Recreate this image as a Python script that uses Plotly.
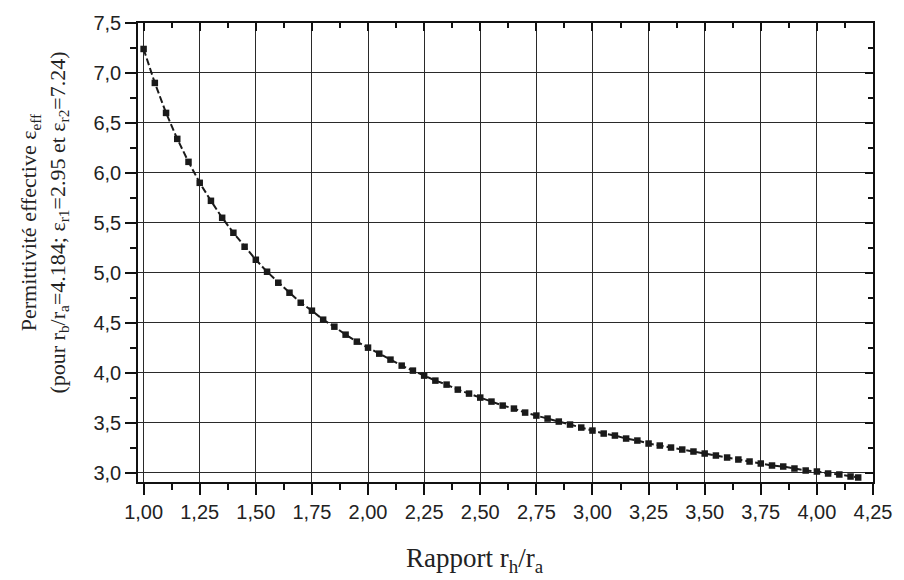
import plotly.graph_objects as go

# Rapport r_h/r_a
ratio = [1.00, 1.05, 1.10, 1.15, 1.20, 1.25, 1.30, 1.35, 1.40, 1.45,
         1.50, 1.55, 1.60, 1.65, 1.70, 1.75, 1.80, 1.85, 1.90, 1.95,
         2.00, 2.05, 2.10, 2.15, 2.20, 2.25, 2.30, 2.35, 2.40, 2.45,
         2.50, 2.55, 2.60, 2.65, 2.70, 2.75, 2.80, 2.85, 2.90, 2.95,
         3.00, 3.05, 3.10, 3.15, 3.20, 3.25, 3.30, 3.35, 3.40, 3.45,
         3.50, 3.55, 3.60, 3.65, 3.70, 3.75, 3.80, 3.85, 3.90, 3.95,
         4.00, 4.05, 4.10, 4.15, 4.184]

# Permittivité effective
eps_eff = [7.24, 6.90, 6.60, 6.34, 6.11, 5.90, 5.72, 5.55, 5.40, 5.26,
           5.13, 5.01, 4.90, 4.80, 4.70, 4.62, 4.53, 4.46, 4.38, 4.31,
           4.25, 4.19, 4.13, 4.07, 4.02, 3.97, 3.92, 3.88, 3.83, 3.79,
           3.75, 3.71, 3.67, 3.64, 3.60, 3.57, 3.54, 3.51, 3.48, 3.45,
           3.42, 3.39, 3.37, 3.34, 3.32, 3.29, 3.27, 3.25, 3.23, 3.21,
           3.19, 3.17, 3.15, 3.13, 3.11, 3.09, 3.07, 3.06, 3.04, 3.02,
           3.01, 2.99, 2.98, 2.96, 2.95]

x_range = [0.975, 4.25]
y_range = [2.905, 7.5]

tick_font = dict(family="Liberation Sans, Arial", size=20, color="#222")
grid_col = "#2a2a2a"

fig = go.Figure()
fig.add_trace(go.Scatter(
    x=ratio, y=eps_eff, mode="lines+markers",
    line=dict(color="#1a1a1a", width=2, dash="7px,3px"),
    marker=dict(symbol="square", size=6.5, color="#1a1a1a"),
    showlegend=False, hoverinfo="skip"))
# invisible trace to host the top/right frame axes
fig.add_trace(go.Scatter(
    x=ratio, y=eps_eff, xaxis="x2", yaxis="y2", mode="lines",
    line=dict(width=0), opacity=0, showlegend=False, hoverinfo="skip"))

fig.update_layout(
    width=904, height=580,
    margin=dict(l=138, r=25, t=21, b=98),
    paper_bgcolor="white", plot_bgcolor="white",
    separators=",.",
    xaxis=dict(range=x_range, tick0=1.0, dtick=0.25, tickformat=".2f",
               showgrid=True, gridcolor=grid_col, gridwidth=1,
               zeroline=False, showline=True, linecolor="#111", linewidth=1.5,
               ticks="outside", ticklen=11, tickwidth=1.5, tickcolor="#111",
               tickfont=tick_font,
               minor=dict(dtick=0.125, tick0=1.0, ticks="outside", ticklen=6,
                          tickwidth=1.5, tickcolor="#111", showgrid=False)),
    yaxis=dict(range=y_range, tick0=3.0, dtick=0.5, tickformat=".1f",
               showgrid=True, gridcolor=grid_col, gridwidth=1,
               zeroline=False, showline=True, linecolor="#111", linewidth=1.5,
               ticks="outside", ticklen=11, tickwidth=1.5, tickcolor="#111",
               tickfont=tick_font,
               minor=dict(dtick=0.25, tick0=3.0, ticks="outside", ticklen=6,
                          tickwidth=1.5, tickcolor="#111", showgrid=False)),
    xaxis2=dict(range=x_range, overlaying="x", side="top", anchor="y2",
                tick0=1.0, dtick=0.25, showticklabels=False, showgrid=False,
                zeroline=False, showline=True, linecolor="#111", linewidth=1.5,
                ticks="inside", ticklen=8, tickwidth=1.5, tickcolor="#111",
                minor=dict(dtick=0.125, tick0=1.0, ticks="inside", ticklen=5,
                           tickwidth=1.5, tickcolor="#111", showgrid=False)),
    yaxis2=dict(range=y_range, overlaying="y", side="right", anchor="x2",
                tick0=3.0, dtick=0.5, showticklabels=False, showgrid=False,
                zeroline=False, showline=True, linecolor="#111", linewidth=1.5,
                ticks="inside", ticklen=8, tickwidth=1.5, tickcolor="#111",
                minor=dict(dtick=0.25, tick0=3.0, ticks="inside", ticklen=5,
                           tickwidth=1.5, tickcolor="#111", showgrid=False)),
)

title_font = dict(family="Liberation Serif, Times New Roman", size=22, color="#222")
fig.add_annotation(
    text="Permittivité effective ε<sub>eff</sub><br>"
         "(pour r<sub>b</sub>/r<sub>a</sub>=4.184; ε<sub>r1</sub>=2.95 et ε<sub>r2</sub>=7.24)",
    xref="paper", yref="paper", x=-0.128, y=0.565,
    xanchor="center", yanchor="middle", textangle=-90,
    showarrow=False, font=title_font, align="center")
fig.add_annotation(
    text="Rapport r<sub>h</sub>/r<sub>a</sub>",
    xref="paper", yref="paper", x=0.459, y=-0.17,
    xanchor="center", yanchor="middle",
    showarrow=False, font=dict(family="Liberation Serif, Times New Roman", size=27, color="#222"))

fig.write_html("out.html")
